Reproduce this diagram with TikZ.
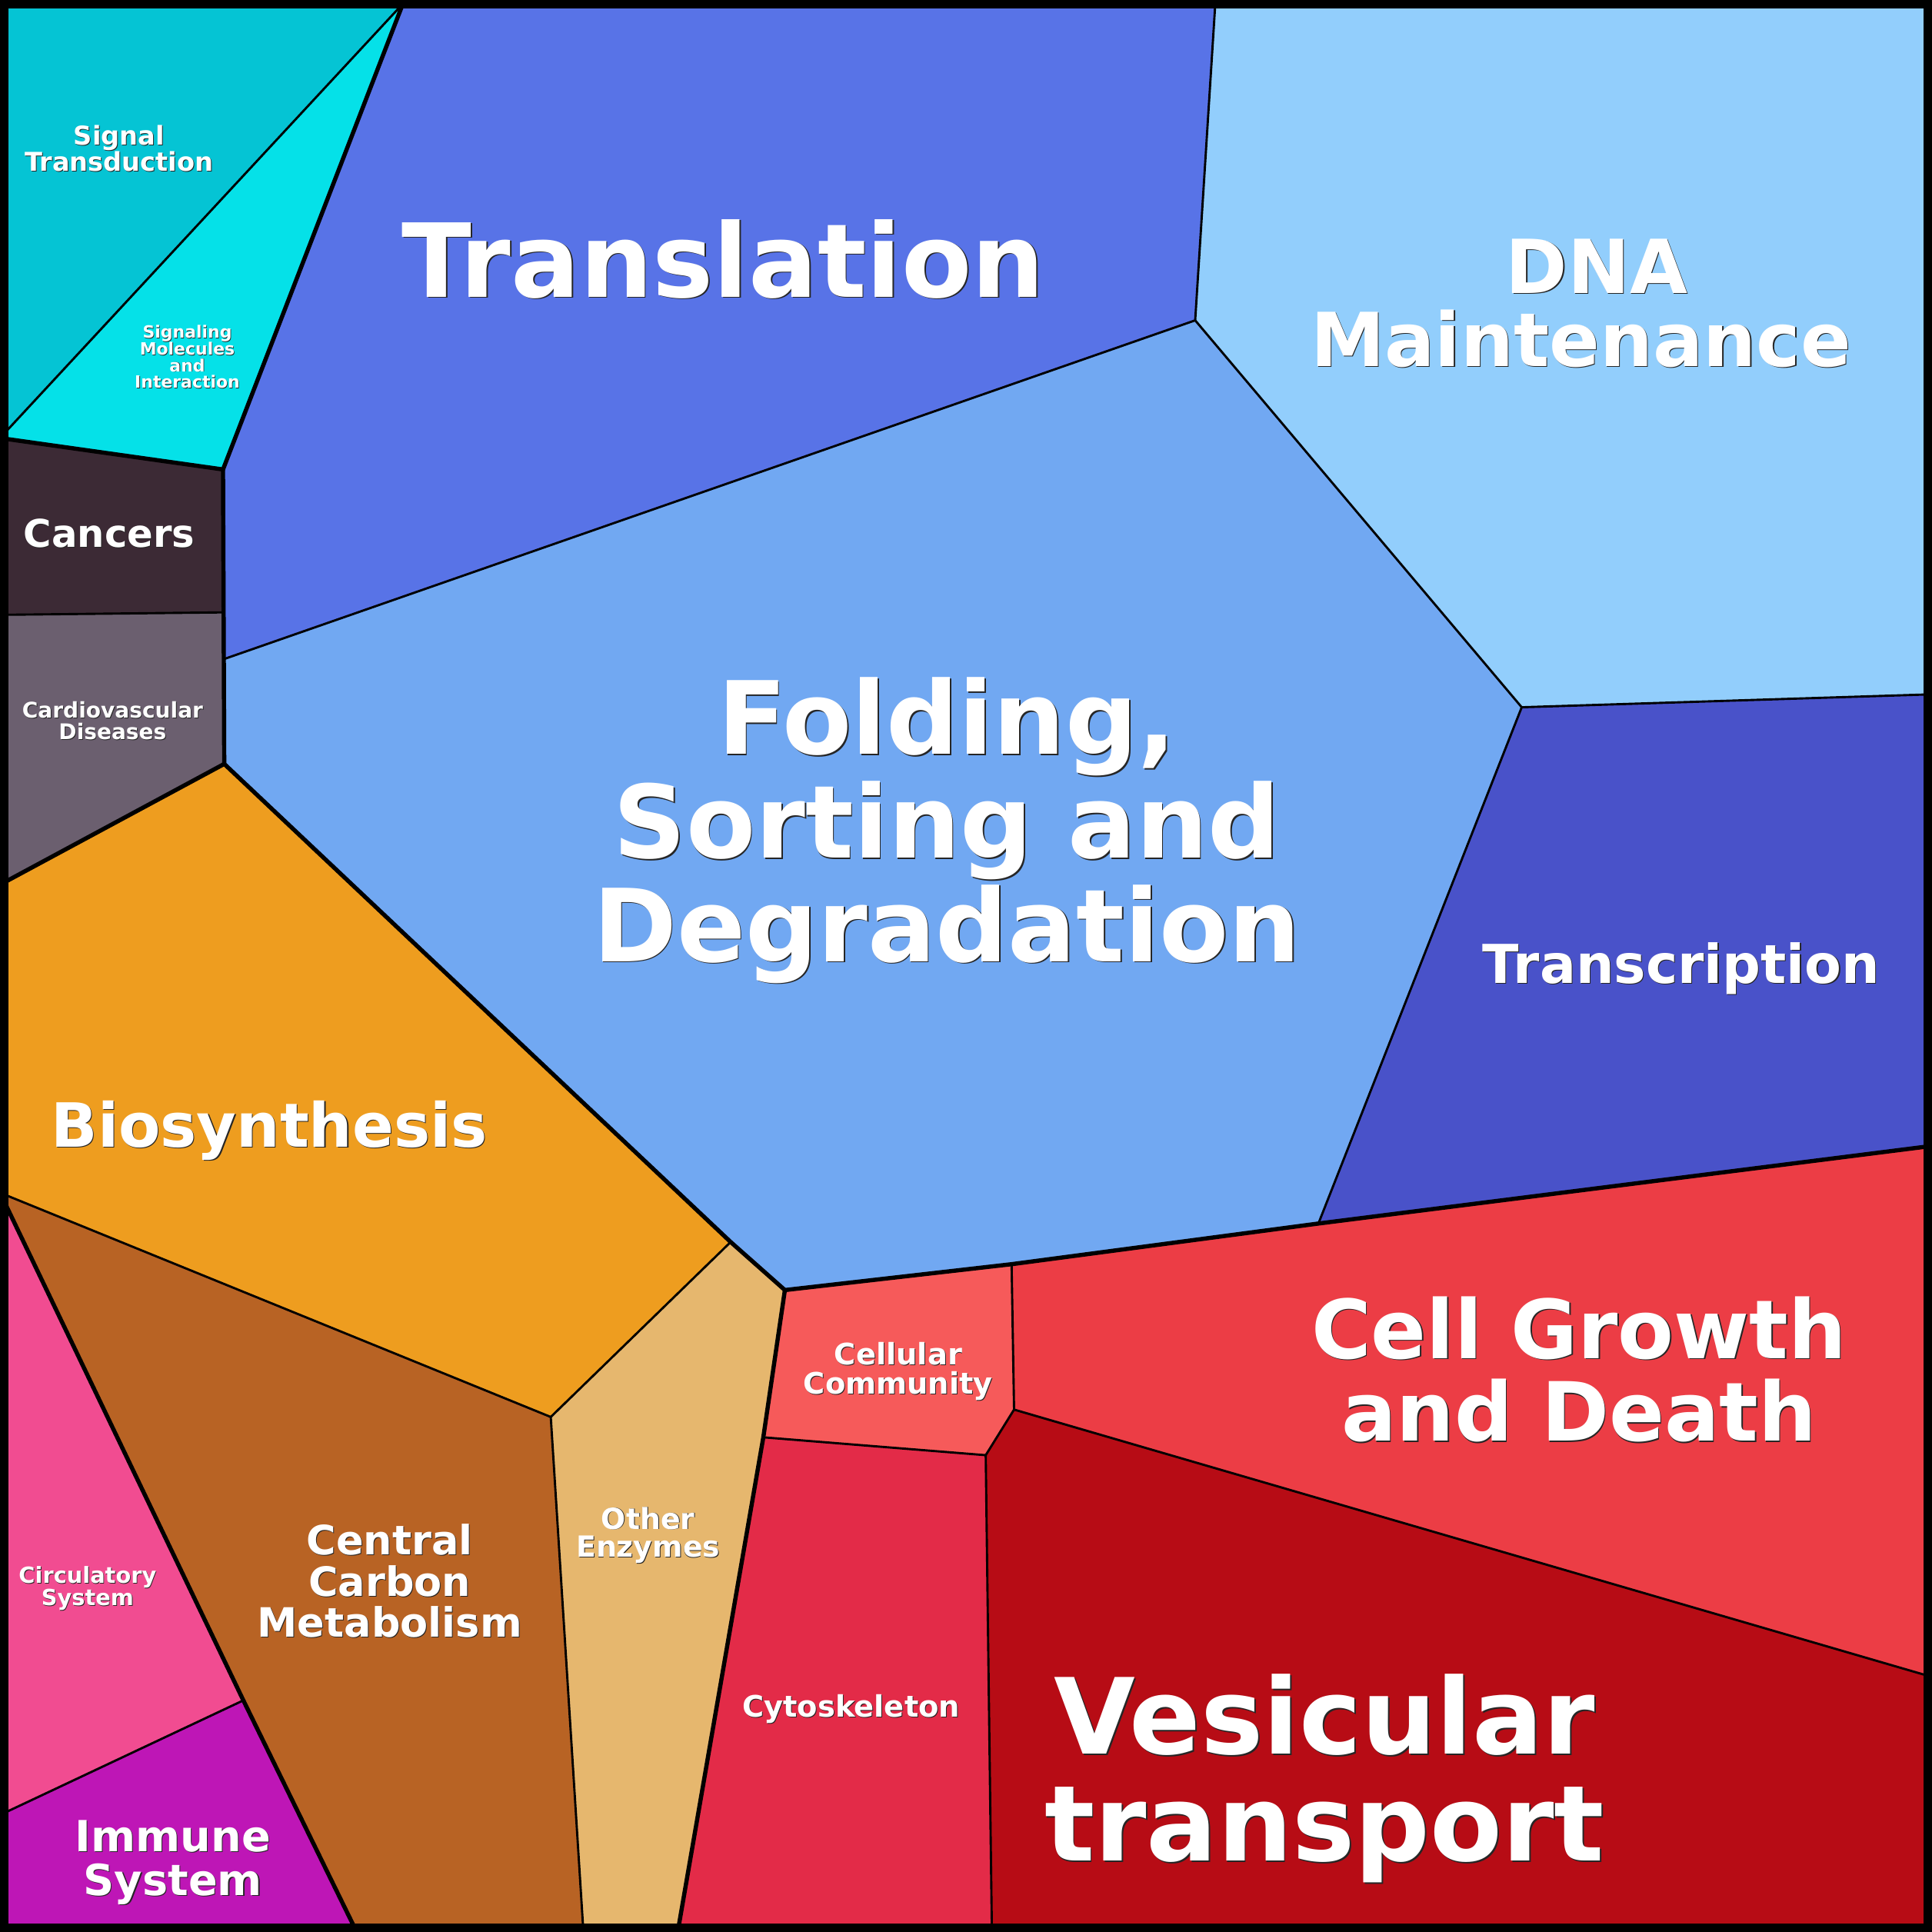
\documentclass[tikz,border=0pt]{standalone}
\usepackage{fontspec}
\setmainfont{DejaVu Sans}
\definecolor{cST}{HTML}{05C4D4}
\definecolor{cSM}{HTML}{05E1E8}
\definecolor{cCan}{HTML}{3C2A35}
\definecolor{cCar}{HTML}{6B5F6F}
\definecolor{cTra}{HTML}{5873E7}
\definecolor{cDNA}{HTML}{92CEFC}
\definecolor{cFol}{HTML}{71A8F2}
\definecolor{cTrc}{HTML}{4952C9}
\definecolor{cBio}{HTML}{EE9D1F}
\definecolor{cCCM}{HTML}{B86324}
\definecolor{cOEn}{HTML}{E6B76E}
\definecolor{cCir}{HTML}{F14C91}
\definecolor{cImm}{HTML}{BE16B6}
\definecolor{cCCy}{HTML}{F65A5A}
\definecolor{cCGD}{HTML}{EC3D45}
\definecolor{cCyt}{HTML}{E32B48}
\definecolor{cVes}{HTML}{B70C15}
\newcommand\lab[6]{%
  \node[lblsh, font={\fontsize{#4}{#5}\selectfont\bfseries}, xshift={0.4+0.008*#4}, yshift={-0.4-0.008*#4}] (#1s) at (#2,#3) {#6};
  \node[lbl, font={\fontsize{#4}{#5}\selectfont\bfseries}] (#1) at (#2,#3) {#6};}
\begin{document}
\begin{tikzpicture}[x=1pt,y=-1pt, line join=round,
  thinln/.style={line width=1.8pt},
  thickln/.style={line width=3.4pt},
  lbl/.style={text=white, align=center, inner sep=0pt, outer sep=0pt},
  lblsh/.style={text=black!85, align=center, inner sep=0pt, outer sep=0pt}]
\useasboundingbox (0,0) rectangle (1568,1568);
% corners
\coordinate (TL) at (0,0);
\coordinate (TR) at (1568,0);
\coordinate (BR) at (1568,1568);
\coordinate (BL) at (0,1568);
% vertices
\coordinate (v1) at (327,3);
\coordinate (v2) at (0,355.5);
\coordinate (v3) at (0,355.5);
\coordinate (v4) at (181,381);
\coordinate (v5) at (0,499);
\coordinate (v6) at (181,497);
\coordinate (v7) at (181.5,535);
\coordinate (v8) at (182,620);
\coordinate (v9) at (0,718);
\coordinate (v10) at (970,260);
\coordinate (v11) at (986.5,0);
\coordinate (v12) at (1235,574);
\coordinate (v13) at (1568,563.5);
\coordinate (v14) at (1070,993);
\coordinate (v15) at (1568,930);
\coordinate (v16) at (821,1026);
\coordinate (v17) at (637,1047);
\coordinate (v18) at (593,1008);
\coordinate (v19) at (0,968);
\coordinate (v20) at (447,1150);
\coordinate (v21) at (473.5,1568);
\coordinate (v22) at (197.5,1380);
\coordinate (v23) at (0,1473);
\coordinate (v24) at (289.5,1568);
\coordinate (v25) at (619.5,1166.5);
\coordinate (v26) at (550,1568);
\coordinate (v27) at (823,1144);
\coordinate (v28) at (800,1181);
\coordinate (v29) at (805,1568);
\coordinate (v30) at (1568,1361);
% fills
\fill[cST] (TL) -- (v1) -- (v2) -- cycle;
\fill[cSM] (v1) -- (v4) -- (v3) -- (v2) -- cycle;
\fill[cCan] (v3) -- (v4) -- (v6) -- (v5) -- cycle;
\fill[cCar] (v5) -- (v6) -- (v7) -- (v8) -- (v9) -- cycle;
\fill[cTra] (v1) -- (v11) -- (v10) -- (v7) -- (v4) -- cycle;
\fill[cDNA] (v11) -- (TR) -- (v13) -- (v12) -- (v10) -- cycle;
\fill[cFol] (v7) -- (v10) -- (v12) -- (v14) -- (v16) -- (v17) -- (v18) -- (v8) -- cycle;
\fill[cTrc] (v12) -- (v13) -- (v15) -- (v14) -- cycle;
\fill[cBio] (v9) -- (v8) -- (v18) -- (v20) -- (v19) -- cycle;
\fill[cCCM] (v19) -- (v20) -- (v21) -- (v24) -- (v22) -- cycle;
\fill[cOEn] (v18) -- (v17) -- (v25) -- (v26) -- (v21) -- (v20) -- cycle;
\fill[cCir] (v19) -- (v22) -- (v23) -- cycle;
\fill[cImm] (v23) -- (v22) -- (v24) -- (BL) -- cycle;
\fill[cCCy] (v17) -- (v16) -- (v27) -- (v28) -- (v25) -- cycle;
\fill[cCGD] (v16) -- (v14) -- (v15) -- (v30) -- (v27) -- cycle;
\fill[cCyt] (v25) -- (v28) -- (v29) -- (v26) -- cycle;
\fill[cVes] (v28) -- (v27) -- (v30) -- (BR) -- (v29) -- cycle;
% thin borders inside groups
\draw[thinln] (v1) -- (v2);
\draw[thinln] (v5) -- (v6);
\draw[thinln] (v7) -- (v10) -- (v11);
\draw[thinln] (v10) -- (v12) -- (v13);
\draw[thinln] (v12) -- (v14);
\draw[thinln] (v19) -- (v20) -- (v18);
\draw[thinln] (v20) -- (v21);
\draw[thinln] (v22) -- (v23);
\draw[thinln] (v16) -- (v27) -- (v28) -- (v25);
\draw[thinln] (v28) -- (v29);
\draw[thinln] (v27) -- (v30);
% thick borders between groups
\draw[thickln] (v1) -- (v4) -- (v3);
\draw[thickln] (v4) -- (v8) -- (v9);
\draw[thickln] (v8) -- (v18) -- (v17) -- (v16) -- (v14) -- (v15);
\draw[thickln] (v17) -- (v25) -- (v26);
\draw[thickln] (v19) -- (v22) -- (v24);
% frame
\draw[line width=14pt] (TL) rectangle (BR);
% labels
\lab{sig}{96.7}{120.5}{21}{20}{Signal\\Transduction}
\lab{smi}{152}{289.7}{13.7}{13.5}{Signaling\\Molecules\\and\\Interaction}
\lab{can}{88.7}{432.7}{31}{31}{Cancers}
\lab{car}{91.4}{585}{17.5}{17.8}{Cardiovascular\\Diseases}
\lab{tra}{587}{210}{83}{83}{Translation}
\lab{dna}{1283}{246}{60.5}{59.5}{\hspace*{26pt}DNA\\Maintenance}
\lab{fol}{768.5}{674}{82}{84}{Folding,\\Sorting and\\Degradation}
\lab{trc}{1364.5}{786}{43.5}{43.5}{Transcription}
\lab{bio}{218.6}{917.5}{49.5}{49.5}{Biosynthesis}
\lab{ccm}{316.3}{1283}{32.8}{33.3}{Central\\Carbon\\Metabolism}
\lab{oen}{526}{1246}{23.6}{23}{Other\\Enzymes}
\lab{cir}{71.1}{1289.2}{18}{18}{Circulatory\\System}
\lab{imm}{140.4}{1511.6}{34.8}{35.5}{Immune\\System}
\lab{ccy}{729}{1112.9}{24}{23.5}{Cellular\\Community}
\lab{cyt}{690.8}{1386.8}{24}{24}{Cytoskeleton}
\lab{cgd}{1281.5}{1111.4}{66.2}{67}{Cell Growth\\and Death}
\lab{ves}{1075}{1443.4}{85.3}{86.4}{Vesicular\\transport}
\end{tikzpicture}
\end{document}
